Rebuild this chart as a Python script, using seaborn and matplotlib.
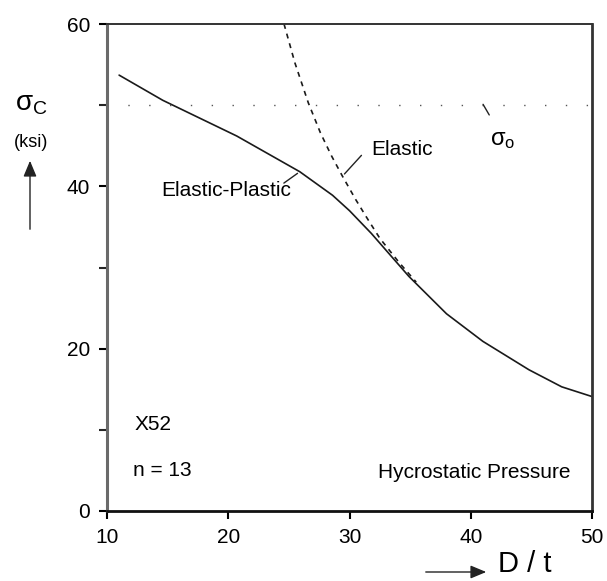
import numpy as np
import pandas as pd
import matplotlib
matplotlib.use("Agg")
import matplotlib.pyplot as plt
import seaborn as sns

# ---- data ----
dt_elastic_plastic = [11.0, 14.6, 20.7, 25.9, 28.6, 30.0, 31.8, 34.9, 38.0, 41.0, 44.8, 47.5, 50.0]
sigma_elastic_plastic = [53.7, 50.6, 46.2, 41.8, 38.9, 37.0, 34.2, 28.9, 24.3, 20.9, 17.4, 15.3, 14.1]

dt_elastic = [24.6, 25.5, 26.6, 27.6, 28.5, 29.4, 30.5, 31.4, 32.5, 34.1, 35.5]
sigma_elastic = [60.0, 55.2, 50.3, 46.6, 43.8, 41.3, 38.4, 36.2, 33.6, 30.6, 28.2]

sigma_o = 50.0

x_ticks = [10, 20, 30, 40, 50]
y_ticks = [0, 20, 40, 60]
y_minor = [10, 30, 50]

sns.set_style("white")
plt.rcParams["font.family"] = ["Liberation Sans", "DejaVu Sans"]
plt.rcParams["text.color"] = "black"
plt.rcParams["mathtext.fontset"] = "custom"
plt.rcParams["mathtext.rm"] = "Liberation Sans"
plt.rcParams["mathtext.it"] = "Liberation Sans"
plt.rcParams["mathtext.bf"] = "Liberation Sans:bold"

fig = plt.figure(figsize=(6.07, 5.81), dpi=100)
ax = fig.add_axes([107 / 607, 1 - 511 / 581, (592 - 107) / 607, (511 - 24) / 581])

df_ep = pd.DataFrame({"dt": dt_elastic_plastic, "sigma": sigma_elastic_plastic})
df_el = pd.DataFrame({"dt": dt_elastic, "sigma": sigma_elastic})

sns.lineplot(data=df_ep, x="dt", y="sigma", ax=ax, color="#1a1a1a", lw=1.2,
             sort=False, estimator=None)
sns.lineplot(data=df_el, x="dt", y="sigma", ax=ax, color="#1a1a1a", lw=1.2,
             sort=False, estimator=None, dashes=False, linestyle=(0, (3, 3)))
ax.axhline(sigma_o, color="#555555", lw=1.0, linestyle=(0, (1, 14)))

ax.set_xlim(10, 50)
ax.set_ylim(0, 60)
ax.set_xticks(x_ticks)
ax.set_yticks(y_ticks)
ax.set_yticks(y_minor, minor=True)
ax.set_xlabel("")
ax.set_ylabel("")
ax.tick_params(axis="both", which="major", direction="out", length=6, width=1.5,
               labelsize=15, pad=6, colors="black", left=True, bottom=True)
ax.tick_params(axis="y", which="minor", direction="out", length=6, width=1.5, left=True)

for side, col, lw in [("left", "#6a6a6a", 2.2), ("right", "#333333", 2.0),
                      ("bottom", "#111111", 2.0), ("top", "#333333", 1.4)]:
    ax.spines[side].set_visible(True)
    ax.spines[side].set_color(col)
    ax.spines[side].set_linewidth(lw)

# annotations
fs = 15
ax.text(19.86, 39.5, "Elastic-Plastic", fontsize=fs, ha="center", va="center", color="black")
ax.annotate("", xy=(25.9, 41.8), xytext=(24.4, 40.2),
            arrowprops=dict(arrowstyle="-", color="#222222", lw=1.0))
ax.text(34.29, 44.5, "Elastic", fontsize=fs, ha="center", va="center", color="black")
ax.annotate("", xy=(29.43, 41.27), xytext=(31.14, 44.07),
            arrowprops=dict(arrowstyle="-", color="#222222", lw=1.0))
ax.text(42.66, 45.7, r"$\sigma_{\rm o}$", fontsize=17, ha="center", va="center", color="black")
ax.annotate("", xy=(40.9, 50.4), xytext=(41.64, 48.5),
            arrowprops=dict(arrowstyle="-", color="#222222", lw=1.0))
ax.text(12.31, 10.6, "X52", fontsize=fs, ha="left", va="center", color="black")
ax.text(12.14, 5.05, "n = 13", fontsize=fs, ha="left", va="center", color="black")
ax.text(48.19, 4.7, "Hycrostatic Pressure", fontsize=fs, ha="right", va="center", color="black")

# outside labels
fig.text(31 / 607, 1 - 104 / 581, r"$\sigma_{\rm C}$", fontsize=20, ha="center", va="center")
fig.text(31 / 607, 1 - 142 / 581, "(ksi)", fontsize=13, ha="center", va="center")
fig.add_artist(matplotlib.patches.FancyArrowPatch(
    (30 / 607, 1 - 232 / 581), (30 / 607, 1 - 158 / 581), transform=fig.transFigure,
    arrowstyle="-|>,head_length=6,head_width=2.5", color="#222222", lw=1.0,
    mutation_scale=1.6))
fig.text(498 / 607, 1 - 564 / 581, "D / t", fontsize=21, ha="left", va="center")
fig.add_artist(matplotlib.patches.FancyArrowPatch(
    (423 / 607, 1 - 572 / 581), (489 / 607, 1 - 572 / 581), transform=fig.transFigure,
    arrowstyle="-|>,head_length=6,head_width=2.5", color="#222222", lw=1.0,
    mutation_scale=1.6))

fig.savefig("out.png", dpi=100)
